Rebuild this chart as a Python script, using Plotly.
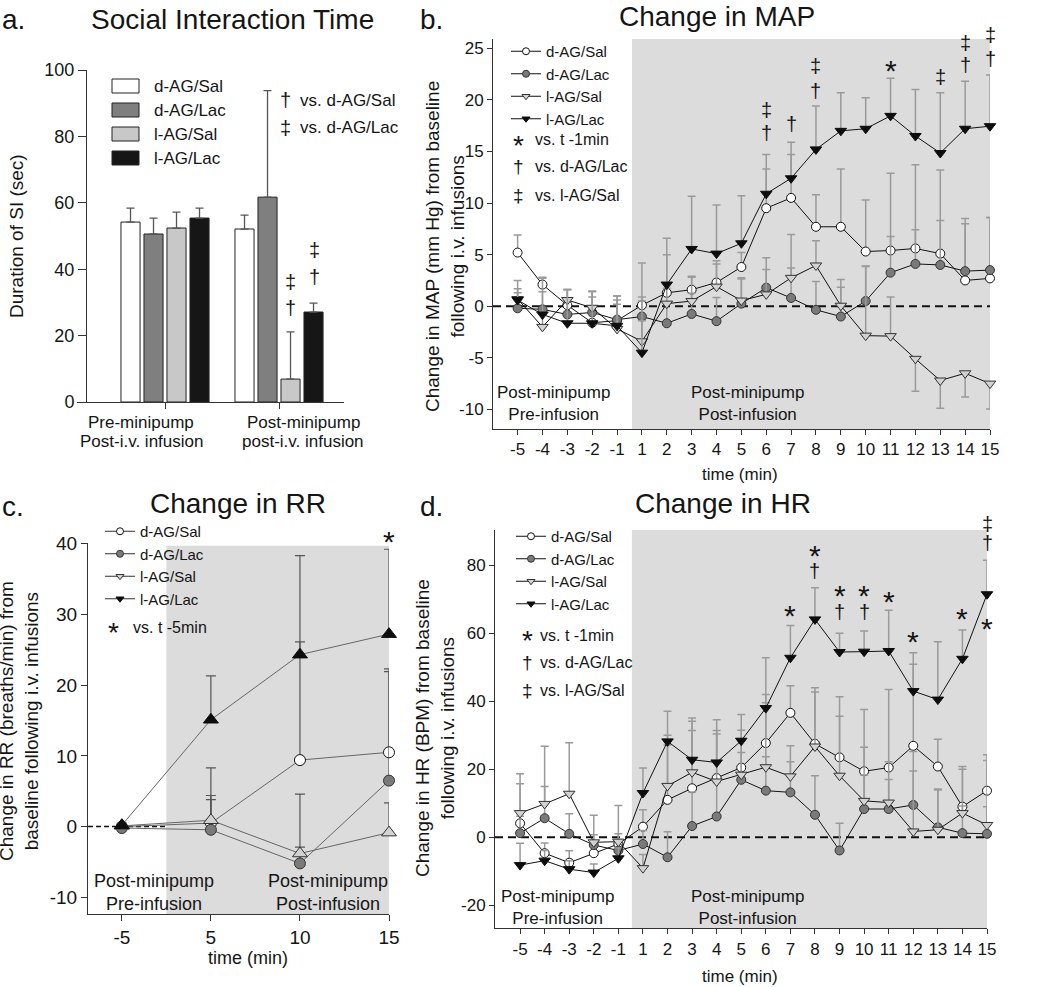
import plotly.graph_objects as go

W, H = 1050, 987
FONT = "Liberation Sans, Arial, Helvetica, sans-serif"
INK = "#151515"
AXIS = "#333333"

def px(x):
    return x / W

def py(y):
    return 1 - y / H

groups = ["d-AG/Sal", "d-AG/Lac", "l-AG/Sal", "l-AG/Lac"]

# ---------------- Panel a: Social interaction time ----------------
si_cats = ["Pre", "Post"]
si_label_top = ["Pre-minipump", "Post-minipump"]
si_label_bottom = ["Post-i.v. infusion", "post-i.v. infusion"]
si_dsal = [54.2, 52.1]
si_dsal_err = [4.2, 4.2]
si_dlac = [50.6, 61.7]
si_dlac_err = [4.8, 32.1]
si_lsal = [52.4, 6.9]
si_lsal_err = [4.8, 14.2]
si_llac = [55.4, 27.1]
si_llac_err = [3.0, 2.7]

# ---------------- Panel b: MAP ----------------
map_time = ["-5", "-4", "-3", "-2", "-1", "1", "2", "3", "4", "5", "6", "7",
            "8", "9", "10", "11", "12", "13", "14", "15"]
map_dsal = [5.2, 2.1, 0.1, -1.6, -1.4, 0.1, 1.3, 1.6, 2.3, 3.8, 9.5, 10.5,
            7.7, 7.7, 5.3, 5.4, 5.6, 5.1, 2.5, 2.7]
map_dsal_err = [1.7, 0.7, 1.5, 2.5, 2.0, 0.8, 3.7, 1.3, 2.1, 1.4, 3.8, 4.2,
                3.1, 5.6, 5.0, 7.5, 8.1, 8.1, 5.5, 5.9]
map_dlac = [-0.2, -0.3, -0.8, -0.6, -1.3, -1.0, -1.65, -0.75, -1.45, 0.25, 1.8, 0.8,
            -0.35, -1.0, 0.5, 3.25, 4.1, 4.0, 3.4, 3.5]
map_dlac_err = [1.5, 1.7, 1.5, 2.0, 1.5, 1.5, 2.0, 2.0, 2.3, 2.4, 2.9, 2.9,
                2.75, 3.6, 3.4, 3.5, 3.3, 4.3, 5.1, 5.1]
map_lsal = [0.7, -2.0, 0.6, -0.15, -2.2, -3.4, 0.25, 0.5, 1.9, 0.55, 1.15, 2.75,
            3.95, 0.05, -2.85, -2.9, -5.1, -7.2, -6.5, -7.5]
map_lsal_err_up = [1.0, 1.5, 1.0, 1.6, 3.2, 2.0, 1.5, 2.3, 2.2, 2.2, 2.4, 4.2,
                   2.4, 1.8, 6.7, 3.8, 0.0, 0.0, 0.0, 0.0]
map_lsal_err_dn = [0, 0, 0, 0, 0, 0, 0, 0, 0, 0, 0, 0,
                   0, 0, 0, 0, 3.15, 2.7, 2.3, 2.45]
map_llac = [0.6, -0.8, -1.65, -1.65, -1.9, -4.5, 2.1, 5.55, 5.1, 6.1, 10.9, 12.4,
            15.2, 17.0, 17.2, 18.45, 16.5, 14.85, 17.2, 17.45]
map_llac_err = [1.9, 3.5, 3.3, 3.1, 2.9, 8.7, 4.5, 5.1, 4.7, 4.6, 3.8, 3.5,
                4.2, 3.7, 3.0, 3.65, 4.5, 5.85, 4.6, 4.95]

# ---------------- Panel c: RR ----------------
rr_time = ["-5", "5", "10", "15"]
rr_dsal = [0.0, 0.5, 9.4, 10.5]
rr_dsal_err = [0.3, 7.8, 16.7, 11.8]
rr_dlac = [-0.2, -0.45, -5.2, 6.5]
rr_dlac_err = [0.3, 4.85, 2.3, 15.4]
rr_lsal = [0.1, 0.9, -3.8, -0.85]
rr_lsal_err = [0.3, 2.9, 8.4, 4.2]
rr_llac = [0.2, 15.1, 24.3, 27.2]
rr_llac_err = [0.3, 6.2, 14.0, 12.0]

# ---------------- Panel d: HR ----------------
hr_time = map_time
hr_dsal = [4.1, -4.7, -7.5, -4.7, -2.0, 3.1, 11.0, 14.4, 17.4, 20.5, 27.7, 36.6,
           27.5, 23.5, 19.4, 20.5, 26.9, 20.8, 9.0, 13.7]
hr_dsal_err = [11.6, 3.0, 3.5, 3.0, 3.0, 5.0, 19.0, 17.0, 13.0, 11.0, 14.3, 8.0,
               16.5, 17.8, 18.2, 23.0, 24.0, 8.0, 11.8, 10.6]
hr_dlac = [1.2, 5.6, 1.0, -2.3, -3.9, -2.0, -5.9, 3.3, 6.1, 16.9, 13.7, 13.2,
           6.6, -3.9, 8.3, 8.3, 9.5, 2.9, 1.2, 1.0]
hr_dlac_err = [5.0, 9.3, 5.9, 3.0, 3.0, 4.0, 7.5, 10.0, 10.0, 8.0, 10.0, 9.0,
               11.5, 8.0, 10.0, 8.7, 10.0, 11.0, 8.0, 8.0]
hr_lsal = [7.1, 9.8, 12.8, -1.5, -1.3, -9.1, 15.1, 19.1, 16.4, 18.4, 20.6, 17.9,
           26.7, 18.1, 10.7, 10.2, 1.7, 2.2, 7.1, 3.6]
hr_lsal_err = [11.6, 17.0, 15.0, 8.0, 10.6, 4.0, 12.0, 15.0, 15.0, 10.0, 19.0, 9.0,
               16.0, 17.5, 15.8, 12.0, 23.5, 12.0, 12.9, 19.0]
hr_llac = [-8.2, -6.9, -9.4, -10.4, -6.2, 13.0, 28.2, 22.8, 22.0, 28.4, 38.0, 52.8,
           64.1, 54.5, 54.6, 54.8, 43.0, 40.5, 52.5, 71.5]
hr_llac_err = [6.4, 3.0, 2.5, 2.5, 3.0, 7.4, 8.9, 12.3, 12.6, 7.7, 14.8, 9.5,
               9.3, 5.5, 6.1, 12.0, 11.3, 17.0, 8.5, 10.0]

# significance marks: (symbol, time label, y value)
sig_b = [("‡", "6", 19.0), ("†", "6", 16.8), ("†", "7", 17.7), ("‡", "8", 23.3),
         ("†", "8", 20.9), ("*", "11", 23.2), ("‡", "13", 22.2), ("‡", "14", 25.5),
         ("†", "14", 23.4), ("‡", "15", 26.3), ("†", "15", 24.0)]
sig_d = [("*", "7", 66.5), ("*", "8", 84.2), ("†", "8", 78.3), ("*", "9", 72.2),
         ("†", "9", 66.3), ("*", "10", 72.2), ("†", "10", 66.3), ("*", "11", 70.5),
         ("*", "12", 58.7), ("*", "14", 65.6), ("‡", "15", 92.1), ("†", "15", 86.7),
         ("*", "15", 62.6)]
sig_c = [("*", "15", 40.9)]

# axis ranges
B_YR = [-11.9, 25.9]
C_YR = [-12.35, 40.08]
D_YR = [-26.8, 90.4]

# ---------------- styles ----------------
bar_fill = ["#ffffff", "#7f7f7f", "#c8c8c8", "#161616"]
pt_fill = ["#ffffff", "#7a7a7a", "#d2d2d2", "#0d0d0d"]
pt_edge = ["#111111", "#333333", "#333333", "#0d0d0d"]
sym_down = ["circle", "circle", "triangle-down", "triangle-down"]
sym_up = ["circle", "circle", "triangle-up", "triangle-up"]

fig = go.Figure()

# Panel a bars
for name, vals, errs, fill in zip(groups, [si_dsal, si_dlac, si_lsal, si_llac],
                                  [si_dsal_err, si_dlac_err, si_lsal_err, si_llac_err], bar_fill):
    fig.add_trace(go.Bar(
        name=name, x=si_cats, y=vals, xaxis="x", yaxis="y", showlegend=False,
        marker=dict(color=fill, line=dict(color="#222222", width=1)),
        error_y=dict(type="data", array=errs, arrayminus=[0] * len(errs), symmetric=False,
                     color="#555555", thickness=1.3, width=4),
    ))


def add_series(x, y, up, dn, i, xa, ya, symbols, msize, lcolor, ecolor, ewidth, ethick):
    fig.add_trace(go.Scatter(
        name=groups[i], x=x, y=y, xaxis=xa, yaxis=ya, mode="lines+markers",
        showlegend=False, cliponaxis=False,
        line=dict(color=lcolor, width=1),
        marker=dict(symbol=symbols[i], size=msize, color=pt_fill[i],
                    line=dict(color=pt_edge[i], width=1)),
        error_y=dict(type="data", array=up, arrayminus=dn, symmetric=False,
                     color=ecolor, thickness=ethick, width=ewidth),
    ))


def add_legend_items(xa, ya, legend, lcolor):
    for i, name in enumerate(groups):
        fig.add_trace(go.Scatter(
            name=name, x=[None], y=[None], xaxis=xa, yaxis=ya, mode="lines+markers",
            legend=legend, line=dict(color=lcolor, width=1),
            marker=dict(symbol=sym_down[i], size=7, color=pt_fill[i],
                        line=dict(color=pt_edge[i], width=1)),
        ))


zeros20 = [0] * 20
# Panel b
b_up = [map_dsal_err, map_dlac_err, map_lsal_err_up, map_llac_err]
b_dn = [zeros20, zeros20, map_lsal_err_dn, zeros20]
for i, ys in enumerate([map_dsal, map_dlac, map_lsal, map_llac]):
    add_series(map_time, ys, b_up[i], b_dn[i], i, "x2", "y2", sym_down,
               10 if i >= 2 else 9, "#111111", "#9a9a9a", 4, 1.5)
add_legend_items("x2", "y2", "legend", "#111111")

# Panel c
zeros4 = [0] * 4
for i, (ys, es) in enumerate(zip([rr_dsal, rr_dlac, rr_lsal, rr_llac],
                                 [rr_dsal_err, rr_dlac_err, rr_lsal_err, rr_llac_err])):
    add_series(rr_time, ys, es, zeros4, i, "x3", "y3", sym_up,
               13 if i >= 2 else 11, "#666666", "#555555", 5, 1.2)
add_legend_items("x3", "y3", "legend2", "#333333")

# Panel d
for i, (ys, es) in enumerate(zip([hr_dsal, hr_dlac, hr_lsal, hr_llac],
                                 [hr_dsal_err, hr_dlac_err, hr_lsal_err, hr_llac_err])):
    add_series(hr_time, ys, es, zeros20, i, "x4", "y4", sym_down,
               10 if i >= 2 else 9, "#111111", "#9a9a9a", 4, 1.5)
add_legend_items("x4", "y4", "legend3", "#111111")

# ---------------- shapes ----------------
shapes = [
    dict(type="rect", xref="x2", yref="y2 domain", x0=4.6, x1=19, y0=0, y1=1,
         fillcolor="#dcdcdc", line=dict(width=0), layer="below"),
    dict(type="rect", xref="x3", yref="y3", x0=0.5, x1=3.0, y0=C_YR[0], y1=39.7,
         fillcolor="#dcdcdc", line=dict(width=0), layer="below"),
    dict(type="rect", xref="x4", yref="y4 domain", x0=4.55, x1=19, y0=0, y1=1,
         fillcolor="#dcdcdc", line=dict(width=0), layer="below"),
    dict(type="line", xref="x2 domain", yref="y2", x0=0, x1=1, y0=0, y1=0,
         line=dict(color="#111111", width=2, dash="8px,5px"), layer="below"),
    dict(type="line", xref="x3 domain", yref="y3", x0=0, x1=1, y0=0, y1=0,
         line=dict(color="#111111", width=1.5, dash="5px,3px"), layer="below"),
    dict(type="line", xref="x4 domain", yref="y4", x0=0, x1=1, y0=0, y1=0,
         line=dict(color="#111111", width=2, dash="8px,5px"), layer="below"),
]
# panel a legend swatches
for c, fill in zip([86, 110, 134, 158], bar_fill):
    shapes.append(dict(type="rect", xref="paper", yref="paper",
                       x0=px(112), x1=px(139), y0=py(c + 7), y1=py(c - 7),
                       fillcolor=fill, line=dict(color="#222222", width=1)))

# ---------------- annotations ----------------
anns = []


def ann(x, y, text, size=16, xanchor="center", yanchor="middle", xref="paper", yref="paper",
        angle=0, yshift=0):
    anns.append(dict(x=x, y=y, text=text, xref=xref, yref=yref, xanchor=xanchor,
                     yanchor=yanchor, showarrow=False, textangle=angle, yshift=yshift,
                     font=dict(size=size, color=INK, family=FONT)))


def pann(x, y, text, size=16, xanchor="center", angle=0, yshift=0):
    ann(px(x), py(y), text, size=size, xanchor=xanchor, angle=angle, yshift=yshift)


# titles
pann(0, 19, "a.", 28, "left")
pann(232, 19, "Social Interaction Time", 28)
pann(418, 19, "b.", 28, "left")
pann(717, 16, "Change in MAP", 28)
pann(0, 506, "c.", 28, "left")
pann(238, 503, "Change in RR", 28)
pann(418, 506, "d.", 28, "left")
pann(723, 503, "Change in HR", 28)

# axis titles
pann(16, 236, "Duration of SI (sec)", 19, angle=-90)
pann(445, 247, "Change in MAP (mm Hg) from baseline<br>following i.v. infusions", 19, angle=-90)
pann(19, 721, "Change in RR (breaths/min) from<br>baseline following i.v. infusions", 19, angle=-90)
pann(435, 728, "Change in HR (BPM) from baseline<br>following i.v. infusions", 19, angle=-90)
pann(740, 474, "time (min)", 17)
pann(248, 958, "time (min)", 18)
pann(740, 976, "time (min)", 17)

# panel a category labels
for cx, t1, t2 in zip([141, 303], si_label_top, si_label_bottom):
    pann(cx, 422, t1, 17)
    pann(cx, 441, t2, 17)

# region labels
pann(553, 403, "Post-minipump<br>Pre-infusion", 17)
pann(747, 403, "Post-minipump<br>Post-infusion", 17)
pann(154, 892, "Post-minipump<br>Pre-infusion", 18)
pann(328, 892, "Post-minipump<br>Post-infusion", 18)
pann(557, 907, "Post-minipump<br>Pre-infusion", 17)
pann(747, 907, "Post-minipump<br>Post-infusion", 17)

# panel a legend labels + notes
for c, name in zip([86, 110, 134, 158], groups):
    pann(152, c, name, 17, "left")
pann(285, 100, "†", 20)
pann(298, 100, "vs. d-AG/Sal", 17, "left")
pann(285, 128, "‡", 20)
pann(298, 128, "vs. d-AG/Lac", 17, "left")
pann(290, 282, "‡", 20)
pann(290, 308, "†", 20)
pann(314, 250, "‡", 20)
pann(314, 277, "†", 20)

# notes b
pann(518, 143, "*", 28, yshift=-2)
pann(533, 140, "vs. t -1min", 16, "left")
pann(518, 166, "†", 19)
pann(533, 166, "vs. d-AG/Lac", 16, "left")
pann(518, 195, "‡", 19)
pann(533, 195, "vs. l-AG/Sal", 16, "left")
# notes c
pann(113, 630, "*", 28, yshift=-2)
pann(131, 627, "vs. t -5min", 16, "left")
# notes d
pann(527, 638, "*", 28, yshift=-2)
pann(538, 635, "vs. t -1min", 16, "left")
pann(527, 662, "†", 19)
pann(538, 662, "vs. d-AG/Lac", 16, "left")
pann(527, 690, "‡", 19)
pann(538, 690, "vs. l-AG/Sal", 16, "left")


def frac(v, rng):
    return (v - rng[0]) / (rng[1] - rng[0])


def sig_ann(t, xi, f, xref, yref):
    if t == "*":
        ann(xi, f, t, 30, xref=xref, yref=yref, yshift=-4)
    else:
        ann(xi, f, t, 20, xref=xref, yref=yref)


# significance marks (x at category index, y as a fraction of the axis domain so
# marks above the top of the range stay visible)
for t, x, y in sig_b:
    sig_ann(t, map_time.index(x), frac(y, B_YR), "x2", "y2 domain")
for t, x, y in sig_d:
    sig_ann(t, hr_time.index(x), frac(y, D_YR), "x4", "y4 domain")
for t, x, y in sig_c:
    sig_ann(t, rr_time.index(x), frac(y, C_YR), "x3", "y3 domain")

# ---------------- axes ----------------
common = dict(showline=True, linecolor=AXIS, linewidth=1, ticks="outside", tickcolor=AXIS,
              showgrid=False, zeroline=False, fixedrange=True, automargin=False)

legend_common = dict(xanchor="left", yanchor="top", bgcolor="rgba(0,0,0,0)", borderwidth=0,
                     tracegroupgap=0, itemwidth=30, orientation="v")

b_ticks = [-10, -5, 0, 5, 10, 15, 20, 25]
c_ticks = [-10, 0, 10, 20, 30, 40]
d_ticks = [-20, 0, 20, 40, 60, 80]

fig.update_layout(
    width=W, height=H, margin=dict(l=0, r=0, t=0, b=0, pad=0, autoexpand=False),
    paper_bgcolor="white", plot_bgcolor="rgba(0,0,0,0)",
    font=dict(family=FONT, color=INK, size=16),
    barmode="group", bargap=0.193, bargroupgap=0.17,
    shapes=shapes, annotations=anns,
    xaxis=dict(domain=[px(77), px(344)], anchor="y", type="category", range=[-0.772, 1.57],
               tickvals=si_cats, showticklabels=False, ticklen=6, **common),
    yaxis=dict(domain=[py(402), py(70)], anchor="free", position=px(86), range=[0, 100],
               tickvals=[0, 20, 40, 60, 80, 100], ticklen=8, tickfont=dict(size=18), **common),
    xaxis2=dict(domain=[px(493), px(990)], anchor="y2", type="category", range=[-0.99, 19],
                categoryorder="array", categoryarray=map_time, tickvals=map_time, ticktext=map_time,
                ticklen=5, tickangle=0, tickfont=dict(size=17), **common),
    yaxis2=dict(domain=[py(429), py(39)], anchor="x2", range=B_YR,
                tickvals=b_ticks, ticktext=[str(v) for v in b_ticks],
                ticklen=5, tickfont=dict(size=17), **common),
    xaxis3=dict(domain=[px(88), px(389)], anchor="y3", type="category", range=[-0.38, 3.0],
                categoryorder="array", categoryarray=rr_time, tickvals=rr_time, ticktext=rr_time,
                ticklen=6, tickangle=0, tickfont=dict(size=19), **common),
    yaxis3=dict(domain=[py(914), py(543)], anchor="x3", range=C_YR,
                tickvals=c_ticks, ticktext=[str(v) for v in c_ticks],
                ticklen=6, tickfont=dict(size=19), **common),
    xaxis4=dict(domain=[px(495), px(987)], anchor="y4", type="category", range=[-1.02, 19],
                categoryorder="array", categoryarray=hr_time, tickvals=hr_time, ticktext=hr_time,
                ticklen=5, tickangle=0, tickfont=dict(size=17), **common),
    yaxis4=dict(domain=[py(928.3), py(530)], anchor="x4", range=D_YR,
                tickvals=d_ticks, ticktext=[str(v) for v in d_ticks],
                ticklen=5, tickfont=dict(size=17), **common),
    legend=dict(x=px(506), y=py(35), font=dict(size=15), **legend_common),
    legend2=dict(x=px(100), y=py(515), font=dict(size=15), **legend_common),
    legend3=dict(x=px(511), y=py(520), font=dict(size=15), **legend_common),
)

fig.write_html("out.html", config={"displayModeBar": False},
               post_script="document.body.style.margin='0px';")
